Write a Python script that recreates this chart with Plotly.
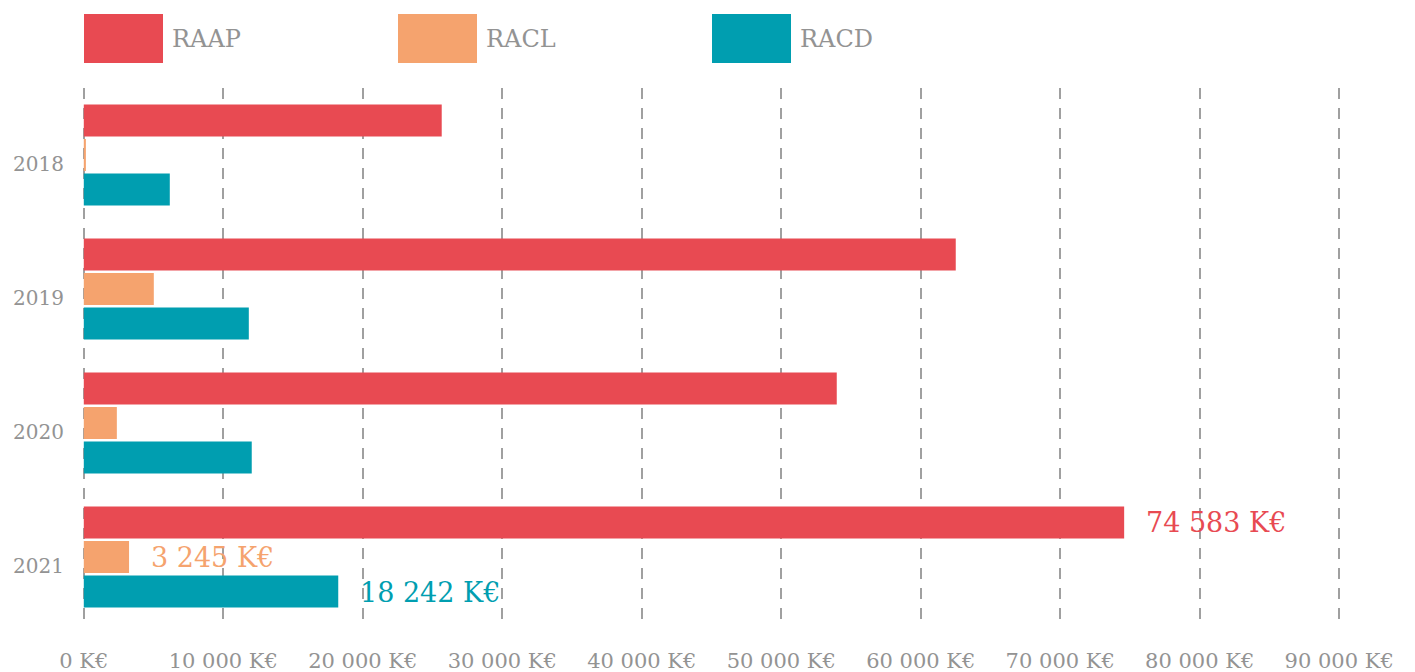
import plotly.graph_objects as go

years = ["2018", "2019", "2020", "2021"]
raap = [25660, 62510, 53980, 74583]
racl = [150, 5020, 2370, 3245]
racd = [6165, 11830, 12040, 18242]

series_names = ["RAAP", "RACL", "RACD"]
colors = ["#E84A52", "#F5A36E", "#009EB0"]

tick_vals = [0, 10000, 20000, 30000, 40000, 50000, 60000, 70000, 80000, 90000]
tick_text = ["0 K€", "10 000 K€", "20 000 K€", "30 000 K€", "40 000 K€",
             "50 000 K€", "60 000 K€", "70 000 K€", "80 000 K€", "90 000 K€"]

# value labels shown for the last year only
last_labels = ["74 583 K€", "3 245 K€", "18 242 K€"]

FONT = "DejaVu Serif"
GREY = "#939393"

fig = go.Figure()
for name, vals, col in zip(series_names, [raap, racl, racd], colors):
    fig.add_trace(go.Bar(
        y=years, x=vals, name=name, orientation="h",
        marker=dict(color=col, line=dict(width=0)),
        showlegend=False,
    ))

# value annotations next to the 2021 bars
shifts = [35, 0, -35]
for vals, lab, col, ys in zip([raap, racl, racd], last_labels, colors, shifts):
    fig.add_annotation(
        x=vals[-1], y=len(years) - 1, text=lab, showarrow=False,
        xanchor="left", xshift=20, yshift=ys,
        font=dict(family=FONT, size=27, color=col),
    )

# plot box (page is offset 8px by the body margin); x range padded so the
# edge gridlines at 0 and 90 000 are not clipped
PL, PT, PW, PH = 73, 80, 1261, 536


def px(x_page):
    return (x_page - 8 - PL) / PW


def py(y_page):
    return (PT + PH - (y_page - 8)) / PH


legend_x = [84, 398, 712]
for name, col, lx in zip(series_names, colors, legend_x):
    fig.add_shape(
        type="rect", xref="paper", yref="paper",
        x0=px(lx), x1=px(lx + 79), y0=py(63), y1=py(14),
        fillcolor=col, line=dict(width=0),
    )
    fig.add_annotation(
        xref="paper", yref="paper", x=px(lx + 86), y=py(39),
        text=name, showarrow=False, xanchor="left", yanchor="middle",
        font=dict(family=FONT, size=24, color=GREY),
    )

fig.update_layout(
    width=1415, height=672,
    margin=dict(l=PL, r=1415 - PL - PW, t=PT, b=672 - PT - PH),
    paper_bgcolor="white", plot_bgcolor="white",
    barmode="group", bargap=0.23, bargroupgap=0.07,
    font=dict(family=FONT, color=GREY),
    xaxis=dict(
        range=[-200, 90200], tickvals=tick_vals, ticktext=tick_text,
        showgrid=True, gridcolor="#a0a0a0", gridwidth=1.5, griddash="11px,9px",
        zeroline=False, showline=False, ticks="", automargin=False,
        ticklabelstandoff=22, tickfont=dict(family=FONT, size=21, color=GREY),
    ),
    yaxis=dict(
        type="category", range=[3.5, -0.5], showgrid=False, zeroline=False,
        showline=False, ticks="", automargin=False,
        ticklabelstandoff=16, ticklabelshift=-9,
        tickfont=dict(family=FONT, size=20, color=GREY),
    ),
)

fig.write_html("out.html")
